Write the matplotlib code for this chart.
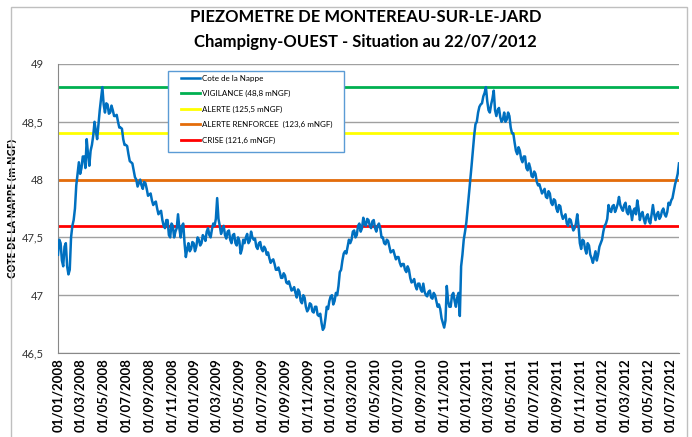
import matplotlib
matplotlib.use("Agg")
import matplotlib.pyplot as plt
import matplotlib.dates as mdates
from matplotlib.ticker import FuncFormatter
from matplotlib.patches import Rectangle
import pandas as pd

# ---------------- data ----------------
start_date = "2008-01-01"
step = "84h"   # readings every 3.5 days
levels = [
    47.35, 47.48, 47.45, 47.3, 47.25, 47.42, 47.45, 47.25, 47.18, 47.22,
    47.5, 47.6, 47.65, 47.75, 47.95, 48.05,
    48.15, 48.05, 48.1, 48.2, 48.2, 48.1, 48.35, 48.22, 48.12, 48.25,
    48.3, 48.38, 48.5, 48.42, 48.35, 48.48, 48.6, 48.7, 48.8, 48.65,
    48.58, 48.66, 48.65, 48.57, 48.58, 48.64, 48.6, 48.55, 48.55, 48.56,
    48.5, 48.45, 48.45, 48.44, 48.35, 48.3, 48.3, 48.29, 48.22, 48.16,
    48.15, 48.14, 48.08, 48.02,
    48.0, 47.94, 47.97, 48.0, 47.95, 47.92, 47.98, 47.97, 47.92, 47.86,
    47.87, 47.88, 47.82, 47.78, 47.8, 47.81, 47.75, 47.7, 47.72, 47.73,
    47.65, 47.6, 47.58, 47.65,
    47.65, 47.52, 47.5, 47.62, 47.6, 47.5, 47.55, 47.58, 47.7, 47.58,
    47.5, 47.6, 47.62, 47.45, 47.33, 47.4, 47.45, 47.38, 47.4, 47.46,
    47.45, 47.38, 47.42, 47.5, 47.48, 47.43, 47.45, 47.52, 47.5, 47.47,
    47.55, 47.58, 47.52, 47.5, 47.57, 47.62, 47.6, 47.66, 47.84, 47.66,
    47.6, 47.53, 47.57, 47.6, 47.52, 47.49, 47.55, 47.56, 47.48, 47.45,
    47.52, 47.53, 47.45, 47.43, 47.5, 47.47, 47.36, 47.4, 47.48, 47.45,
    47.5, 47.53, 47.45, 47.47, 47.55, 47.5, 47.48, 47.49, 47.42, 47.4,
    47.45, 47.46, 47.4, 47.38, 47.42, 47.4,
    47.35, 47.37, 47.32, 47.28, 47.3, 47.31, 47.27, 47.22, 47.22, 47.24,
    47.2, 47.15, 47.15, 47.19, 47.17, 47.11, 47.1, 47.12, 47.08, 47.04,
    47.05, 47.07, 47.02, 46.98, 47.05, 47.03, 46.95, 46.93, 47.0, 46.98,
    46.9, 46.86, 46.88, 46.93, 46.92, 46.86, 46.85, 46.9, 46.9, 46.83,
    46.82, 46.84, 46.76, 46.7, 46.72, 46.8, 46.9, 46.88, 46.95, 46.99,
    47.0, 46.92, 46.95, 47.02, 47.0, 47.08, 47.2, 47.22, 47.3, 47.36,
    47.38, 47.36, 47.42, 47.48, 47.45, 47.48, 47.55, 47.56, 47.5, 47.52,
    47.6, 47.62, 47.55, 47.58, 47.67, 47.62, 47.6, 47.66, 47.65, 47.6,
    47.58, 47.64, 47.65, 47.58, 47.55, 47.6, 47.62, 47.58, 47.5, 47.5,
    47.45, 47.44, 47.48, 47.47, 47.42, 47.37, 47.38, 47.39, 47.35, 47.31,
    47.33, 47.33, 47.28, 47.25, 47.27, 47.27, 47.22, 47.2, 47.25, 47.22,
    47.15, 47.11, 47.12, 47.14, 47.08, 47.05, 47.1, 47.1, 47.05, 47.03,
    47.1, 47.03, 47.0, 46.99, 47.03, 47.04, 46.98, 46.97, 47.02, 47.0,
    46.95, 46.9, 46.92, 46.88, 46.8, 46.76, 46.72, 46.78, 47.08, 46.95,
    46.9, 46.9, 47.0, 47.02, 46.95, 46.9, 46.98, 47.02, 46.82, 47.25,
    47.35, 47.48, 47.55, 47.63, 47.75, 47.88, 48.0, 48.12, 48.25, 48.38,
    48.48, 48.5, 48.58, 48.63, 48.65, 48.66, 48.72, 48.75, 48.8, 48.68,
    48.6, 48.58, 48.65, 48.7, 48.77, 48.6, 48.55, 48.6, 48.62, 48.54,
    48.5, 48.52, 48.58, 48.5, 48.52, 48.58, 48.55, 48.45, 48.4, 48.4,
    48.32, 48.25, 48.22, 48.28, 48.25, 48.18, 48.15, 48.2, 48.2, 48.1,
    48.08, 48.14, 48.1, 48.03, 48.02, 48.07, 48.05, 47.98, 47.95, 47.96,
    47.92, 47.88, 47.9, 47.92, 47.85, 47.84, 47.9, 47.88, 47.8, 47.78,
    47.83, 47.82, 47.75, 47.72, 47.78, 47.77, 47.7, 47.66, 47.68, 47.7,
    47.62, 47.6, 47.66, 47.65, 47.6, 47.56, 47.58, 47.62, 47.7, 47.6,
    47.45, 47.4, 47.48, 47.47, 47.4, 47.36, 47.45, 47.43, 47.35, 47.32,
    47.28, 47.33, 47.38, 47.3, 47.35, 47.42, 47.45, 47.48, 47.55, 47.6,
    47.62, 47.66, 47.78, 47.73, 47.72, 47.77, 47.78, 47.72, 47.75, 47.79,
    47.85, 47.78, 47.75, 47.73, 47.78, 47.8, 47.72, 47.7, 47.77, 47.73,
    47.65, 47.73, 47.75, 47.7, 47.82, 47.75, 47.65, 47.7, 47.72, 47.66,
    47.62, 47.68, 47.7, 47.64, 47.62, 47.7, 47.78, 47.7, 47.65, 47.7,
    47.72, 47.66, 47.68, 47.73, 47.75, 47.7, 47.68, 47.72, 47.8, 47.78,
    47.82, 47.84, 47.9, 47.96, 48.0, 48.05, 48.14,
]
threshold_values = [48.8, 48.4, 48.0, 47.6]
threshold_labels = ["VIGILANCE (48,8 mNGF)", "ALERTE (125,5 mNGF)",
                    "ALERTE RENFORCEE  (123,6 mNGF)", "CRISE (121,6 mNGF)"]
threshold_colors = ["#00B050", "#FFFF00", "#E46C0A", "#FF0000"]
series_label = "Cote de la Nappe"
title_lines = ["PIEZOMETRE DE MONTEREAU-SUR-LE-JARD",
               "Champigny-OUEST - Situation au 22/07/2012"]
y_label = "COTE DE LA NAPPE (m NGF)"
y_ticks = [46.5, 47, 47.5, 48, 48.5, 49]

dates = pd.date_range(start_date, periods=len(levels), freq=step)

# ---------------- figure ----------------
plt.rcParams['font.family'] = ['Lato', 'DejaVu Sans']
W, H = 692, 437
fig = plt.figure(figsize=(W / 100, H / 100), dpi=100)
fig.patch.set_facecolor("white")
fig.patches.append(Rectangle((11 / W, -0.02), (687 - 11) / W, 1.02 - 6.7 / H,
                             transform=fig.transFigure, fill=False,
                             edgecolor="#BFBFBF", lw=1.0, zorder=0))

ax = fig.add_axes([58 / W, 1 - 353 / H, (679 - 58) / W, (353 - 64) / H])

ax.set_ylim(46.5, 49)
ax.set_yticks(y_ticks)
ax.yaxis.set_major_formatter(FuncFormatter(lambda v, p: ("%g" % v).replace(".", ",")))
ax.grid(axis="y", color="#A0A0A0", lw=1.0)
ax.set_axisbelow(True)

line_handles = []
h, = ax.plot(dates, levels, color="#0070C0", lw=1.8, label=series_label, zorder=3)
line_handles.append(h)
for v, lab, c in zip(threshold_values, threshold_labels, threshold_colors):
    hh = ax.axhline(v, color=c, lw=2.0, label=lab, zorder=2)
    line_handles.append(hh)

ax.set_xlim(dates[0], dates[-1])
xt = pd.date_range("2008-01-01", "2012-07-01", freq="2MS")
ax.set_xticks(xt)
ax.xaxis.set_major_formatter(mdates.DateFormatter("%d/%m/%Y"))
for lab in ax.get_xticklabels():
    lab.set_rotation(90)
    lab.set_fontweight("bold")
    lab.set_fontsize(9.5)
ax.tick_params(axis="x", length=0, pad=4)
ax.tick_params(axis="y", length=0, pad=10, labelsize=8, labelcolor="#333333")

for s in ["top", "right"]:
    ax.spines[s].set_visible(False)
ax.spines["left"].set_color("#888888")
ax.spines["bottom"].set_color("#888888")

ax.set_ylabel(y_label, fontsize=7.5, fontweight="bold",
              family=["Open Sans", "DejaVu Sans"])
ax.yaxis.set_label_coords(-0.062, 0.5)

fig.text(0.528, 1 - 17 / H, title_lines[0], ha="center", va="center",
         fontsize=12, fontweight="bold")
fig.text(0.528, 1 - 42 / H, title_lines[1], ha="center", va="center",
         fontsize=12, fontweight="bold")

# legend box (Excel-like padding)
box = Rectangle((168 / W, 1 - 152 / H), (344 - 168) / W, (152 - 71) / H,
                transform=fig.transFigure, facecolor="white",
                edgecolor="#5B9BD5", lw=1.0, zorder=4.5, clip_on=False)
ax.add_patch(box)
leg = ax.legend(handles=line_handles, loc="upper left",
                bbox_to_anchor=((181 - 58) / 621, 1 - (74.5 - 64) / 289),
                fontsize=5.8, frameon=False, handlelength=2.4,
                labelspacing=1.05, borderpad=0, borderaxespad=0,
                handletextpad=0.2)
leg.set_zorder(5)

fig.savefig("out.png", dpi=100)
